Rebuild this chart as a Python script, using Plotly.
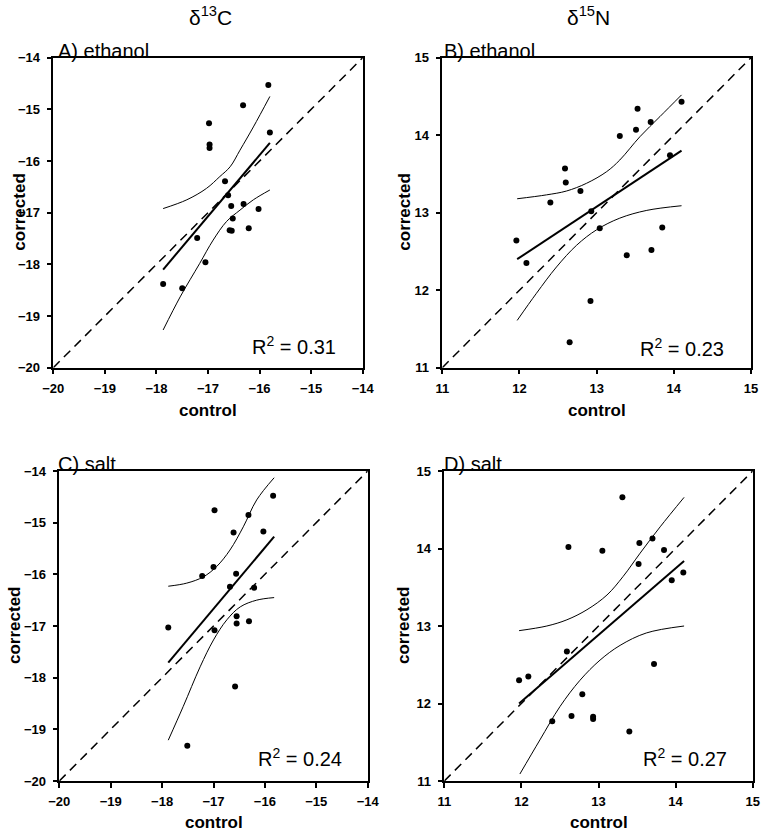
import plotly.graph_objects as go

# ---------------- data ----------------
# Panel A: d13C ethanol
a_ctrl = [-15.83, -16.32, -16.98, -16.97, -16.97, -15.80, -16.67, -16.61, -16.55, -16.31,
          -16.02, -16.52, -16.58, -16.54, -16.21, -17.21, -17.05, -17.87, -17.50]
a_corr = [-14.53, -14.92, -15.27, -15.68, -15.75, -15.45, -16.39, -16.66, -16.87, -16.83,
          -16.93, -17.11, -17.34, -17.35, -17.30, -17.49, -17.96, -18.38, -18.46]
a_fit_x = [-17.87, -15.80]
a_fit_y = [-18.10, -15.65]
a_up_x = [-17.87, -17.41, -17.03, -16.77, -16.57, -16.38, -16.12, -15.80]
a_up_y = [-16.92, -16.75, -16.53, -16.30, -16.11, -15.79, -15.34, -14.75]
a_lo_x = [-17.87, -17.54, -17.16, -16.90, -16.64, -16.38, -16.12, -15.80]
a_lo_y = [-19.27, -18.63, -17.98, -17.53, -17.17, -16.95, -16.75, -16.56]

# Panel B: d15N ethanol
b_ctrl = [14.10, 13.53, 13.70, 13.51, 13.30, 13.95, 12.59, 12.60, 12.79, 12.40,
          12.93, 13.04, 13.85, 11.96, 12.09, 13.39, 13.71, 12.92, 12.65]
b_corr = [14.43, 14.34, 14.17, 14.07, 13.99, 13.74, 13.57, 13.39, 13.28, 13.13,
          13.02, 12.80, 12.81, 12.64, 12.35, 12.45, 12.52, 11.86, 11.33]
b_fit_x = [11.97, 14.10]
b_fit_y = [12.40, 13.80]
b_up_x = [11.97, 12.35, 12.61, 12.87, 13.13, 13.30, 13.56, 13.82, 14.10]
b_up_y = [13.18, 13.23, 13.28, 13.38, 13.53, 13.68, 13.98, 14.24, 14.52]
b_lo_x = [11.97, 12.22, 12.48, 12.74, 13.00, 13.30, 13.65, 14.10]
b_lo_y = [11.61, 11.96, 12.30, 12.58, 12.78, 12.93, 13.03, 13.09]

# Panel C: d13C salt
c_ctrl = [-15.84, -16.98, -16.32, -16.61, -16.03, -17.00, -17.22, -16.56, -16.68, -16.21,
          -16.55, -16.55, -16.31, -17.88, -16.98, -16.58, -17.51]
c_corr = [-14.48, -14.76, -14.85, -15.19, -15.17, -15.86, -16.03, -15.99, -16.24, -16.26,
          -16.81, -16.95, -16.91, -17.03, -17.08, -18.17, -19.32]
c_fit_x = [-17.88, -15.82]
c_fit_y = [-17.71, -15.27]
c_up_x = [-17.88, -17.52, -17.20, -16.94, -16.68, -16.42, -16.16, -15.82]
c_up_y = [-16.23, -16.17, -16.05, -15.85, -15.53, -15.08, -14.56, -14.13]
c_lo_x = [-17.88, -17.59, -17.26, -17.00, -16.74, -16.48, -16.16, -15.82]
c_lo_y = [-19.21, -18.56, -17.79, -17.27, -16.88, -16.63, -16.50, -16.45]

# Panel D: d15N salt
d_ctrl = [13.31, 12.61, 13.05, 13.53, 13.70, 13.85, 13.52, 14.10, 13.95, 12.59,
          13.72, 11.97, 12.09, 12.79, 12.65, 12.93, 12.93, 12.40, 13.40]
d_corr = [14.66, 14.02, 13.97, 14.07, 14.13, 13.98, 13.80, 13.69, 13.59, 12.67,
          12.51, 12.30, 12.35, 12.12, 11.84, 11.83, 11.80, 11.77, 11.64]
d_fit_x = [11.97, 14.11]
d_fit_y = [12.00, 13.84]
d_up_x = [11.97, 12.33, 12.59, 12.85, 13.11, 13.32, 13.54, 13.80, 14.11]
d_up_y = [12.94, 13.00, 13.08, 13.21, 13.40, 13.64, 13.94, 14.28, 14.66]
d_lo_x = [11.98, 12.24, 12.50, 12.76, 13.02, 13.28, 13.62, 14.11]
d_lo_y = [11.09, 11.53, 11.96, 12.30, 12.56, 12.75, 12.91, 13.00]

c_range = [-20, -14]
n_range = [11, 15]
c_ticks = [-20, -19, -18, -17, -16, -15, -14]
n_ticks = [11, 12, 13, 14, 15]

panel_labels = ["A) ethanol", "B) ethanol", "C) salt", "D) salt"]
r2_labels = ["R<sup>2</sup> = 0.31", "R<sup>2</sup> = 0.23", "R<sup>2</sup> = 0.24", "R<sup>2</sup> = 0.27"]
col_titles = ["δ<sup>13</sup>C", "δ<sup>15</sup>N"]
x_title = "control"
y_title = "corrected"

# ---------------- figure ----------------
W, H = 761, 831
FONT = "Liberation Sans, Arial, sans-serif"

# plot-area pixel boxes (left, right, top, bottom)
boxes = [(53.3, 362.7, 57.7, 367.7), (442.3, 751.0, 57.7, 367.7),
         (59.3, 367.7, 471.0, 781.0), (444.3, 752.7, 471.0, 781.0)]

def px(x):
    return x / W

def py(y):
    return 1 - y / H

panels = [
    (a_ctrl, a_corr, a_fit_x, a_fit_y, a_up_x, a_up_y, a_lo_x, a_lo_y, c_range, c_ticks),
    (b_ctrl, b_corr, b_fit_x, b_fit_y, b_up_x, b_up_y, b_lo_x, b_lo_y, n_range, n_ticks),
    (c_ctrl, c_corr, c_fit_x, c_fit_y, c_up_x, c_up_y, c_lo_x, c_lo_y, c_range, c_ticks),
    (d_ctrl, d_corr, d_fit_x, d_fit_y, d_up_x, d_up_y, d_lo_x, d_lo_y, n_range, n_ticks),
]

fig = go.Figure()
layout_axes = {}
annotations = []

for i, (cx, cy, fx, fy, ux, uy, lx, ly, rng, ticks) in enumerate(panels):
    n = i + 1
    xa = "x" if n == 1 else f"x{n}"
    ya = "y" if n == 1 else f"y{n}"
    # 1:1 line
    fig.add_trace(go.Scatter(x=rng, y=rng, mode="lines", xaxis=xa, yaxis=ya,
                             line=dict(color="black", width=1.5, dash="9px,6px"),
                             showlegend=False, hoverinfo="skip"))
    # CI curves
    fig.add_trace(go.Scatter(x=ux, y=uy, mode="lines", xaxis=xa, yaxis=ya,
                             line=dict(color="black", width=1, shape="spline"),
                             showlegend=False, hoverinfo="skip"))
    fig.add_trace(go.Scatter(x=lx, y=ly, mode="lines", xaxis=xa, yaxis=ya,
                             line=dict(color="black", width=1, shape="spline"),
                             showlegend=False, hoverinfo="skip"))
    # regression line
    fig.add_trace(go.Scatter(x=fx, y=fy, mode="lines", xaxis=xa, yaxis=ya,
                             line=dict(color="black", width=2),
                             showlegend=False, hoverinfo="skip"))
    # points
    fig.add_trace(go.Scatter(x=cx, y=cy, mode="markers", xaxis=xa, yaxis=ya,
                             marker=dict(color="black", size=6),
                             showlegend=False))

    l, r, t, b = boxes[i]
    common = dict(range=rng, tickvals=ticks, showline=True, linecolor="black", linewidth=1.5,
                  mirror=True, ticks="outside", ticklen=5, tickwidth=1.5, tickcolor="black",
                  showgrid=False, zeroline=False, fixedrange=True, automargin=False,
                  tickfont=dict(family=FONT, size=13, color="black", weight="bold"))
    layout_axes["xaxis" if n == 1 else f"xaxis{n}"] = dict(
        domain=[px(l), px(r)], anchor=ya, ticklabelstandoff=3, **common)
    layout_axes["yaxis" if n == 1 else f"yaxis{n}"] = dict(
        domain=[py(b), py(t)], anchor=xa, ticklabelstandoff=4, **common)

    # panel label
    annotations.append(dict(text=panel_labels[i], x=px([56, 442, 56, 442][i]), y=py(t),
                            xref="paper", yref="paper", xanchor="left", yanchor="bottom",
                            yshift=-6, showarrow=False,
                            font=dict(family=FONT, size=20, color="black")))
    # R2 label
    annotations.append(dict(text=r2_labels[i], x=px([338, 726, 344, 729][i]),
                            y=py([345, 347, 757, 757][i]),
                            xref="paper", yref="paper", xanchor="right", yanchor="middle",
                            showarrow=False, font=dict(family=FONT, size=20, color="black")))
    # axis titles
    annotations.append(dict(text=x_title, x=px((l + r) / 2), y=py([411, 411, 822, 822][i]),
                            xref="paper", yref="paper", xanchor="center", yanchor="middle",
                            showarrow=False,
                            font=dict(family=FONT, size=17, color="black", weight="bold")))
    annotations.append(dict(text=y_title, x=px([20, 405, 14, 403][i]), y=py((t + b) / 2),
                            xref="paper", yref="paper", xanchor="center", yanchor="middle",
                            textangle=-90, showarrow=False,
                            font=dict(family=FONT, size=17, color="black", weight="bold")))

# column titles
for j, txt in enumerate(col_titles):
    annotations.append(dict(text=txt, x=px([210, 588][j]), y=py(16),
                            xref="paper", yref="paper", xanchor="center", yanchor="middle",
                            showarrow=False, font=dict(family=FONT, size=21, color="black")))

fig.update_layout(template="none", width=W, height=H, margin=dict(l=0, r=0, t=0, b=0),
                  paper_bgcolor="white", plot_bgcolor="white",
                  annotations=annotations, showlegend=False, **layout_axes)

fig.write_html("out.html", config={"displayModeBar": False},
               post_script="document.body.style.margin='0px';document.body.style.padding='0px';"
                           "document.body.style.overflow='hidden';")
